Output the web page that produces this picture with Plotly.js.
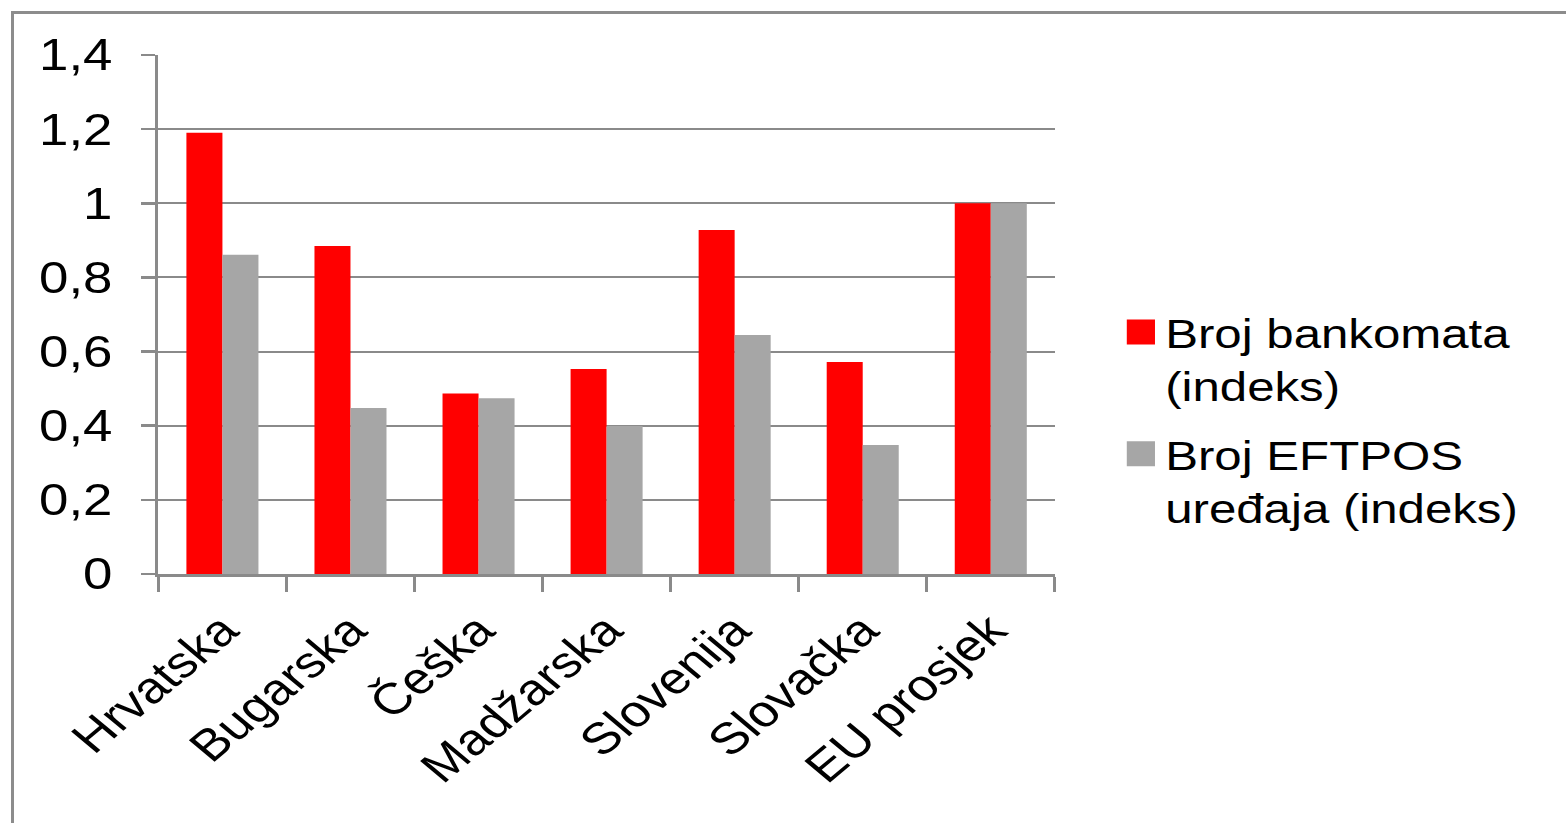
<!DOCTYPE html>
<html>
<head>
<meta charset="utf-8">
<script src="https://cdn.plot.ly/plotly-3.0.1.min.js"></script>
<style>
  html, body { margin: 0; padding: 0; background: #ffffff; overflow: hidden; }
  #wrap { position: absolute; left: 0; top: 0; width: 1566px; height: 823px; overflow: hidden; }
  #plot { position: absolute; left: 0; top: 0; width: 1305px; height: 823px;
          transform: scaleX(1.2); transform-origin: 0 0; }
  #frame { position: absolute; left: 11px; top: 11px; width: 1700px; height: 1000px;
           border: 3px solid #8c8c8c; pointer-events: none; }
</style>
</head>
<body>
<div id="wrap">
  <div id="plot"></div>
  <div id="frame"></div>
</div>
<script>
// ---- data ----
const categories = ['Hrvatska', 'Bugarska', 'Češka', 'Madžarska', 'Slovenija', 'Slovačka', 'EU prosjek'];
const bankomati = [1.19, 0.885, 0.487, 0.553, 0.928, 0.572, 1.0];
const eftpos = [0.861, 0.448, 0.474, 0.399, 0.645, 0.348, 1.0];
const seriesNames = ['Broj bankomata<br>(indeks)', 'Broj EFTPOS<br>uređaja (indeks)'];
const yTicks = [0, 0.2, 0.4, 0.6, 0.8, 1, 1.2, 1.4];

const font = 'Liberation Sans, Arial, sans-serif';

const traces = [
  { type: 'bar', x: categories, y: bankomati, name: seriesNames[0], legendgroup: 'a',
    marker: { color: '#ff0000' }, hoverinfo: 'x+y' },
  { type: 'bar', x: categories, y: eftpos, name: seriesNames[1], legendgroup: 'b',
    marker: { color: '#a6a6a6' }, hoverinfo: 'x+y' }
];

const layout = {
  width: 1305, height: 823,
  margin: { l: 132, r: 426, t: 55, b: 249, pad: 0 },
  paper_bgcolor: '#ffffff', plot_bgcolor: '#ffffff',
  separators: ', ',
  barmode: 'group', bargap: 0.4375, bargroupgap: 0,
  font: { family: font, size: 44, color: '#000000' },
  showlegend: true,
  legend: {
    x: 1.0696, xanchor: 'left', y: 0.53, yanchor: 'top',
    valign: 'top', font: { family: font, size: 41, color: '#000000' },
    bgcolor: 'rgba(0,0,0,0)', tracegroupgap: 12, traceorder: 'grouped'
  },
  xaxis: {
    type: 'category', tickson: 'boundaries', ticks: 'outside', ticklen: 15,
    tickwidth: 2.5, tickcolor: '#8a8a8a', showline: true, linecolor: '#8a8a8a',
    linewidth: 2.5, showgrid: false, tickangle: -45, ticklabelstandoff: 10,
    tickfont: { family: font, size: 44, color: '#000000' }, fixedrange: true
  },
  yaxis: {
    range: [0, 1.4], tickvals: yTicks, ticks: 'outside', ticklen: 12,
    tickwidth: 2.5, tickcolor: '#8a8a8a', showline: true, linecolor: '#8a8a8a',
    linewidth: 2.5, showgrid: true, gridcolor: '#8a8a8a', gridwidth: 2,
    zeroline: false, ticklabelstandoff: 15,
    tickfont: { family: font, size: 44, color: '#000000' }, fixedrange: true
  }
};

Plotly.newPlot('plot', traces, layout, { displayModeBar: false, staticPlot: true }).then(function (gd) {
  // enlarge legend swatches to match the reference squares
  gd.querySelectorAll('.legendpoints path').forEach(function (p) {
    p.removeAttribute('transform');
    p.setAttribute('d', 'M8,-12.5H31.5V12.5H8Z');
    p.style.strokeWidth = '0px';
  });
});
</script>
</body>
</html>
